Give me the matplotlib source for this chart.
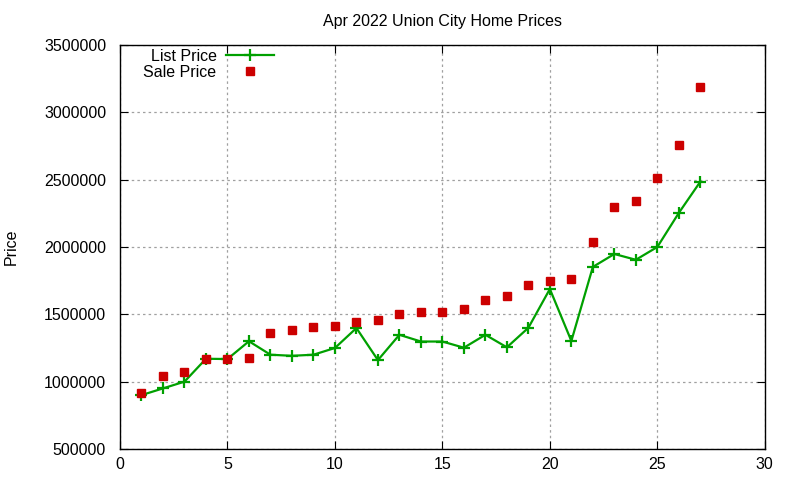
import matplotlib
matplotlib.use("Agg")
import matplotlib.pyplot as plt

plt.rcParams['font.family'] = ['Liberation Sans', 'DejaVu Sans']

# month index within the listing set
idx = list(range(1, 28))

list_price = [900000, 950000, 1000000, 1170000, 1168000, 1300000, 1200000, 1192000, 1200000,
              1250000, 1398000, 1160000, 1348000, 1298000, 1298000, 1252000, 1348000, 1255000,
              1400000, 1688000, 1302000, 1852000, 1948000, 1905000, 2000000, 2253000, 2485000]

sale_price = [918000, 1042000, 1073000, 1170000, 1170000, 1177000, 1362000, 1384000, 1407000,
              1413000, 1443000, 1458000, 1504000, 1520000, 1520000, 1536000, 1608000, 1638000,
              1720000, 1750000, 1765000, 2040000, 2300000, 2345000, 2515000, 2760000, 3190000]

fs = 11.5

fig = plt.figure(figsize=(8, 4.8), dpi=100)
ax = fig.add_axes([0.15, 0.0646, 0.806, 0.8417])

ax.plot(idx, list_price, color='#00a000', lw=1.6, marker='+', ms=8, mew=1.6,
        label='List Price')
ax.plot(idx, sale_price, ls='none', color='#cc0000', marker='s', ms=6,
        label='Sale Price')

ax.set_xlim(0, 30)
ax.set_ylim(500000, 3500000)
ax.set_xticks(range(0, 31, 5))
ax.set_yticks(range(500000, 3500001, 500000))
ax.ticklabel_format(style='plain', axis='y', useOffset=False)
ax.tick_params(direction='in', top=True, right=True, labelsize=fs, length=6)
ax.tick_params(axis='y', pad=10)
ax.tick_params(axis='x', pad=6)
ax.grid(True, color='#a0a0a0', ls=(0, (2, 2.5)), lw=0.9)
for s in ax.spines.values():
    s.set_linewidth(1.0)

ax.set_title('Apr 2022 Union City Home Prices', fontsize=fs, pad=14)
ax.set_ylabel('Price', fontsize=fs)
ax.yaxis.set_label_coords(-0.157, 0.5)

ax.legend(loc='upper left', bbox_to_anchor=(0.024, 1.01), frameon=False, markerfirst=False,
          fontsize=fs, handlelength=3.0, borderaxespad=0.1, labelspacing=0.05,
          handletextpad=0.6)

fig.savefig('out.png', dpi=100)
